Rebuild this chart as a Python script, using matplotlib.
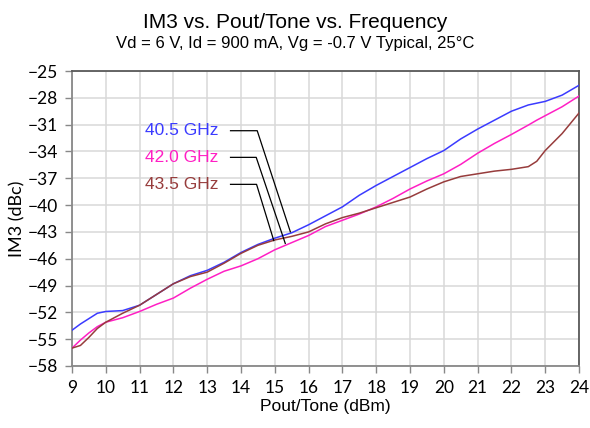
import matplotlib
matplotlib.use("Agg")
import matplotlib.pyplot as plt

# Pout/Tone (dBm) sample points
pout = [9, 9.25, 9.5, 9.75, 10, 10.5, 11, 11.5, 12, 12.5, 13, 13.5, 14, 14.5,
        15, 15.5, 16, 16.5, 17, 17.5, 18, 18.5, 19, 19.5, 20, 20.5, 21, 21.5,
        22, 22.5, 22.75, 23, 23.5, 24]

im3_405 = [-54.0, -53.3, -52.7, -52.1, -51.9, -51.8, -51.2, -50.0, -48.8, -47.9,
           -47.3, -46.4, -45.3, -44.4, -43.7, -43.1, -42.2, -41.2, -40.2, -38.9,
           -37.8, -36.8, -35.8, -34.8, -33.9, -32.6, -31.5, -30.5, -29.5, -28.8,
           -28.6, -28.4, -27.7, -26.6]
im3_420 = [-56.0, -55.1, -54.3, -53.6, -53.1, -52.6, -51.9, -51.1, -50.4, -49.3,
           -48.3, -47.4, -46.8, -46.0, -45.0, -44.2, -43.4, -42.4, -41.7, -41.0,
           -40.2, -39.25, -38.2, -37.3, -36.5, -35.45, -34.2, -33.1, -32.1, -31.05,
           -30.5, -30.0, -29.0, -27.8]
im3_435 = [-56.0, -55.7, -54.8, -53.8, -53.1, -52.1, -51.2, -50.0, -48.8, -48.0,
           -47.5, -46.5, -45.4, -44.5, -43.9, -43.5, -43.0, -42.1, -41.4, -40.9,
           -40.3, -39.7, -39.1, -38.2, -37.4, -36.8, -36.5, -36.2, -36.0, -35.7,
           -35.1, -33.9, -32.0, -29.7]

labels = ["40.5 GHz", "42.0 GHz", "43.5 GHz"]
colors = ["#3b3bff", "#ff1fc4", "#973c3c"]
series = [im3_405, im3_420, im3_435]

# label anchor (right edge of text), elbow and end of the leader line
label_y = [-31.68, -34.66, -37.68]
label_x = 13.34
leader_start_x = 13.69
leader_elbow_x = [14.48, 14.45, 14.46]
leader_end = [(15.46, -42.99), (15.31, -44.29), (14.97, -43.97)]

xticks = list(range(9, 25))
yticks = list(range(-58, -24, 3))

fig = plt.figure(figsize=(5.9, 4.28), dpi=100)
ax = fig.add_axes([72 / 590, 1 - 366 / 428, 507 / 590, 295 / 428])

for y, c in zip(series, colors):
    ax.plot(pout, y, color=c, linewidth=1.1, zorder=3)

for i in range(3):
    ax.text(label_x, label_y[i], labels[i], color=colors[i], ha="right",
            va="center", fontsize=12.5, family="Liberation Sans")
    ex, ey = leader_end[i]
    ax.plot([leader_start_x, leader_elbow_x[i], ex], [label_y[i], label_y[i], ey],
            color="black", linewidth=0.9, zorder=4)

ax.set_xlim(9, 24)
ax.set_ylim(-58, -25)
ax.set_xticks(xticks)
ax.set_yticks(yticks)
ax.grid(True, color="#d9d9d9", linewidth=1.1)
ax.set_axisbelow(True)
ax.tick_params(direction="out", length=5, width=1, color="#888888",
               labelsize=12.5, pad=5)
for lab in ax.get_xticklabels() + ax.get_yticklabels():
    lab.set_family("Lato")
for s in ["left", "bottom"]:
    ax.spines[s].set_color("#888888")
    ax.spines[s].set_linewidth(1.3)
for s in ["top", "right"]:
    ax.spines[s].set_color("#595959")
    ax.spines[s].set_linewidth(1.3)

ax.set_xlabel("Pout/Tone (dBm)", fontsize=12.5, family="Liberation Sans", labelpad=2)
ax.set_ylabel("IM3 (dBc)", fontsize=13, family="Lato", labelpad=2)

fig.text(0.5, 1 - 28 / 428, "IM3 vs. Pout/Tone vs. Frequency", ha="center",
         va="baseline", fontsize=15, family="Liberation Sans")
fig.text(0.5, 1 - 48 / 428, "Vd = 6 V, Id = 900 mA, Vg = -0.7 V Typical, 25\u00b0C",
         ha="center", va="baseline", fontsize=12, family="Liberation Sans")

fig.savefig("out.png", dpi=100)
